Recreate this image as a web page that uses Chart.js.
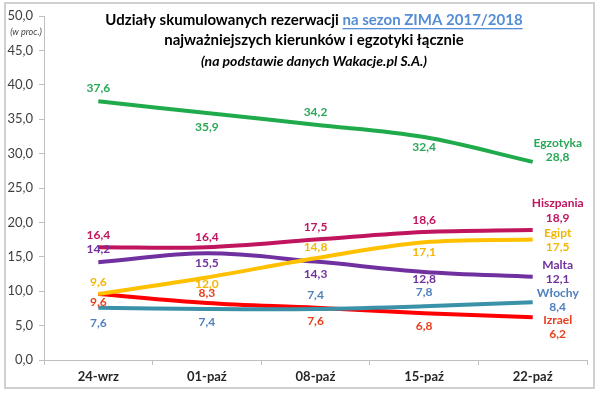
<!DOCTYPE html>
<html>
<head>
<meta charset="utf-8">
<script src="https://cdn.jsdelivr.net/npm/chart.js@4.4.1/dist/chart.umd.min.js"></script>
<style>
  html, body { margin: 0; padding: 0; background: #fff; }
  #wrap { width: 599px; height: 393px; }
</style>
</head>
<body>
<div id="wrap"><canvas id="chart1" width="599" height="393"></canvas></div>
<script>
// dane z wykresu
const categories = ['24-wrz', '01-paź', '08-paź', '15-paź', '22-paź'];
const seriesNames = ['Egzotyka', 'Hiszpania', 'Egipt', 'Malta', 'Włochy', 'Izrael'];
const egzotyka = [37.6, 35.9, 34.2, 32.4, 28.8];
const hiszpania = [16.4, 16.4, 17.5, 18.6, 18.9];
const egipt = [9.6, 12.0, 14.8, 17.1, 17.5];
const malta = [14.2, 15.5, 14.3, 12.8, 12.1];
const wlochy = [7.6, 7.4, 7.4, 7.8, 8.4];
const izrael = [9.6, 8.3, 7.6, 6.8, 6.2];
const yMin = 0, yMax = 50, yStep = 5;

const FONT = "Lato, 'Open Sans', sans-serif";
const fmt = v => v.toFixed(1).replace('.', ',');

// kolory linii i etykiet, przesuniecia etykiet (dy) i etykiety koncowej
const styles = [
    { line: '#1faa4b', text: '#2aa857', dy: [-13, 14, -13, 10], end: [-19, -5] },
    { line: '#c0145e', text: '#c0145e', dy: [-12, -10, -12, -12], end: [-27, -12] },
    { line: '#ffc000', text: '#f2b705', dy: [-12, 7, -11, 10], end: [-6, 8] },
    { line: '#7030a0', text: '#7030a0', dy: [-13, 10, 13, 7], end: [-12, 2] },
    { line: '#3a91a8', text: '#4f81bd', dy: [15, 13, -14, -14], end: [-9, 5] },
    { line: '#ff0000', text: '#e8401c', dy: [8, -10, 13, 13], end: [3, 17] }
];
const values = [egzotyka, hiszpania, egipt, malta, wlochy, izrael];

// Etykiety danych
const labelsPlugin = {
    id: 'labels',
    afterDatasetsDraw(chart) {
        const ctx = chart.ctx;
        ctx.save();
        ctx.font = 'bold 12px ' + FONT;
        ctx.textAlign = 'center';
        ctx.textBaseline = 'middle';
        chart.data.datasets.forEach((ds, i) => {
            const st = styles[i];
            const meta = chart.getDatasetMeta(i);
            ctx.fillStyle = st.text;
            meta.data.forEach((pt, j) => {
                const v = ds.data[j];
                if (j < ds.data.length - 1) {
                    ctx.fillText(fmt(v), pt.x, pt.y + st.dy[j]);
                } else {
                    ctx.fillText(ds.label, pt.x + 25, pt.y + st.end[0]);
                    ctx.fillText(fmt(v), pt.x + 25, pt.y + st.end[1]);
                }
            });
        });
        ctx.restore();
    }
};

// Tytul, ramka i "(w proc.)"
const decorPlugin = {
    id: 'decor',
    beforeDraw(chart) {
        const ctx = chart.ctx;
        ctx.save();
        ctx.fillStyle = '#fff';
        ctx.fillRect(0, 0, chart.width, chart.height);
        ctx.strokeStyle = '#d0d0d0';
        ctx.lineWidth = 2;
        ctx.strokeRect(5, 3, 589, 385);
        ctx.restore();
    },
    afterDraw(chart) {
        const ctx = chart.ctx;
        const cx = 314;
        ctx.save();
        ctx.textBaseline = 'middle';
        ctx.textAlign = 'left';
        ctx.font = 'bold 15px ' + FONT;
        const p1 = 'Udziały skumulowanych rezerwacji ';
        const p2 = 'na sezon ZIMA 2017/2018';
        const w1 = ctx.measureText(p1).width, w2 = ctx.measureText(p2).width;
        let x = cx - (w1 + w2) / 2;
        ctx.fillStyle = '#000';
        ctx.fillText(p1, x, 20);
        ctx.fillStyle = '#558ed5';
        ctx.fillText(p2, x + w1, 20);
        ctx.fillRect(x + w1, 28, w2, 1.3);
        ctx.fillStyle = '#000';
        ctx.textAlign = 'center';
        ctx.fillText('najważniejszych kierunków i egzotyki łącznie', cx, 40);
        ctx.font = 'italic bold 14px ' + FONT;
        ctx.fillText('(na podstawie danych Wakacje.pl S.A.)', cx, 61);
        ctx.font = 'italic 9px ' + FONT;
        ctx.fillStyle = '#404040';
        ctx.fillText('(w proc.)', 26, 32);
        ctx.restore();
    }
};

const config1 = {
    type: 'line',
    data: {
        labels: categories,
        datasets: values.map((arr, i) => ({
            label: seriesNames[i],
            data: arr,
            borderColor: styles[i].line,
            borderWidth: 4,
            pointRadius: 0,
            tension: 0.35,
            fill: false
        }))
    },
    options: {
        responsive: false,
        animation: false,
        layout: { padding: { top: 16, right: 12, left: 0, bottom: 0 } },
        plugins: {
            legend: { display: false },
            tooltip: { enabled: false }
        },
        scales: {
            x: {
                offset: true,
                grid: { drawOnChartArea: false, drawTicks: true, tickLength: 5, color: '#bfbfbf', offset: true },
                border: { color: '#bfbfbf', width: 1 },
                ticks: { color: '#262626', font: { family: FONT, size: 13, weight: 'bold' }, padding: 4, maxRotation: 0 },
                afterFit(scale) { scale.height = 33; }
            },
            y: {
                min: yMin,
                max: yMax,
                grid: { drawOnChartArea: false, drawTicks: true, tickLength: 5, color: '#bfbfbf' },
                border: { color: '#bfbfbf', width: 1 },
                ticks: { stepSize: yStep, color: '#404040', font: { family: FONT, size: 13 }, padding: 6, callback: v => fmt(v) },
                afterFit(scale) { scale.width = 44; }
            }
        }
    },
    plugins: [decorPlugin, labelsPlugin]
};

new Chart(document.getElementById('chart1'), config1);
</script>
</body>
</html>
